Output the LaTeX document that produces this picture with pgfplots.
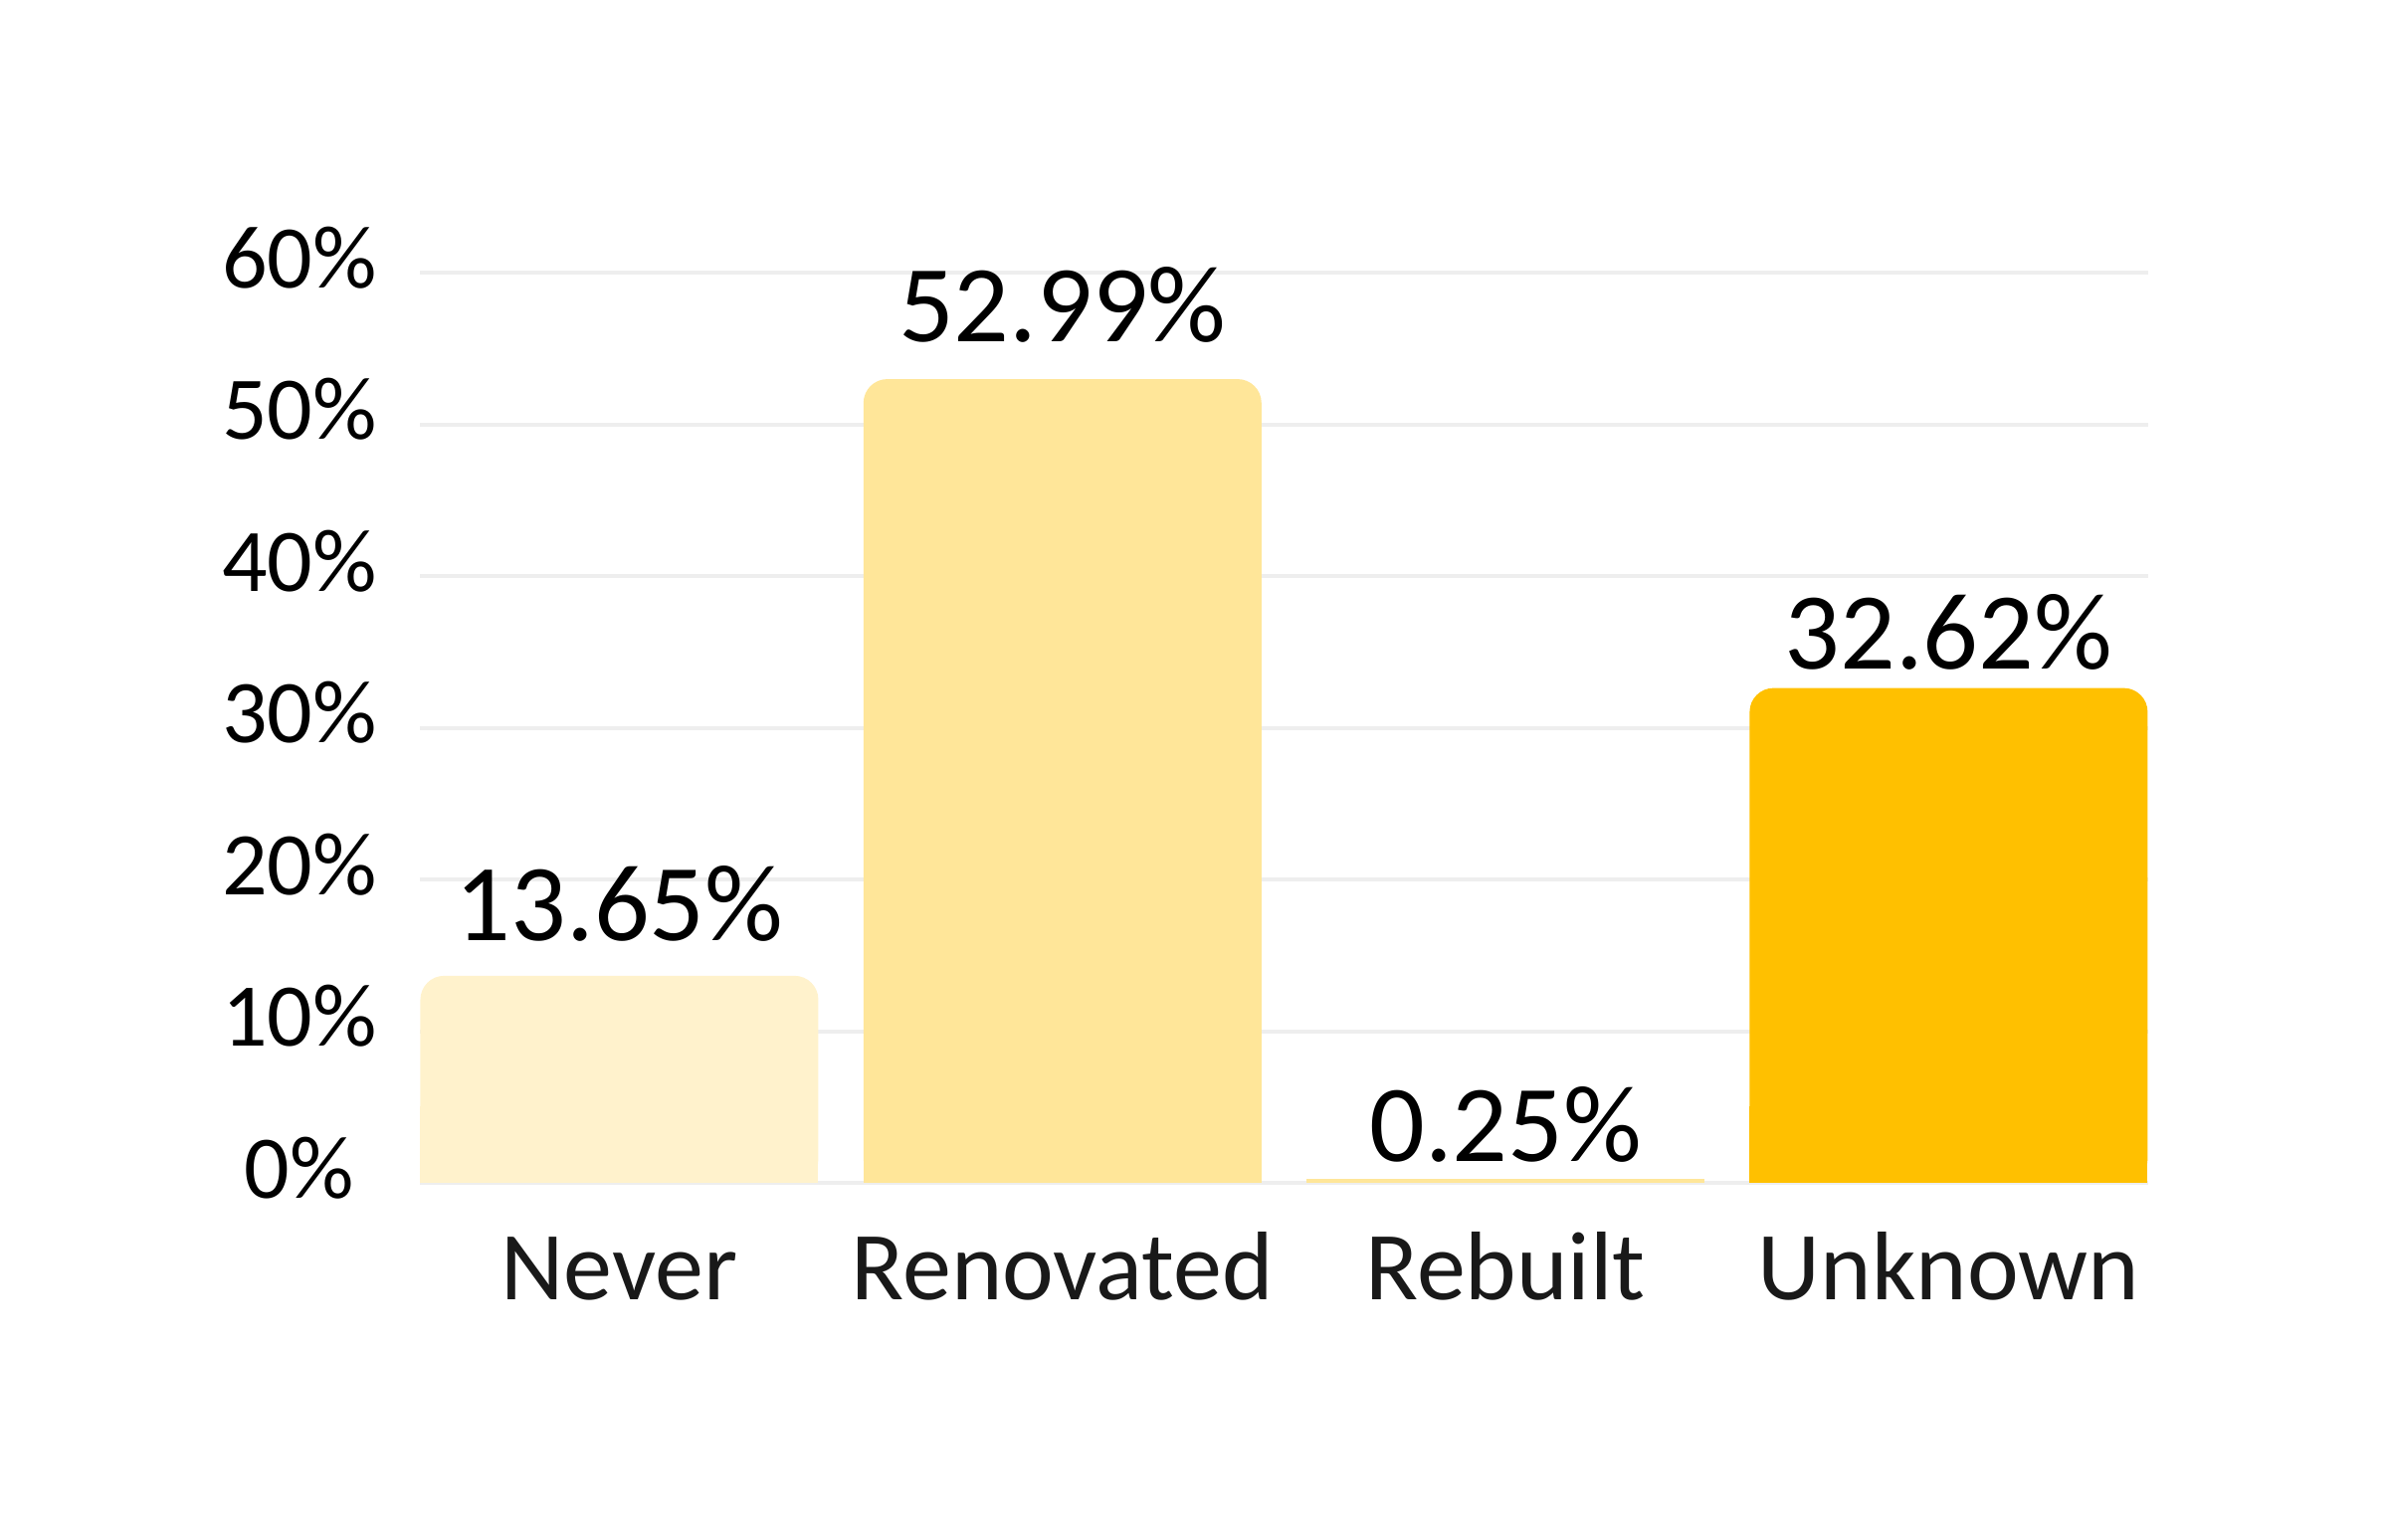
\documentclass[border=0pt]{standalone}
\usepackage{fontspec}
\setmainfont{Carlito}
\usepackage{pgfplots}
\pgfplotsset{compat=1.18}
\definecolor{cNever}{HTML}{FFF2CC}
\definecolor{cRen}{HTML}{FFE699}
\definecolor{cReb}{HTML}{FFE699}
\definecolor{cUnk}{HTML}{FFC000}
\definecolor{gridc}{HTML}{EEEEEE}
\pgfplotsset{
  lbl/.style={
    nodes near coords={\pgfmathprintnumber[fixed,fixed zerofill,precision=2]{\pgfplotspointmeta}\%},
    every node near coord/.append style={anchor=base, yshift=#1, font=\fontsize{27.5}{33}\selectfont, text=black},
  },
}
\begin{document}
\begin{tikzpicture}
\path[use as bounding box] (0,0) rectangle (600.25pt,387pt);
\begin{axis}[
  at={(105.6pt,89.75pt)}, anchor=south west,
  scale only axis, width=434.1pt, height=228.7pt,
  xmin=-0.4493, xmax=3.450, ymin=0, ymax=60,
  ybar, bar width=100pt, bar shift=0pt,
  xtick={0,1,2,3}, xticklabels={Never,Renovated,Rebuilt,Unknown},
  ytick={0,10,...,60}, yticklabel={\pgfmathprintnumber{\tick}\%},
  axis line style={draw=none}, major tick length=0pt,
  ymajorgrids, major grid style={draw=gridc, line width=1pt},
  /pgf/number format/assume math mode=true,
  yticklabel style={anchor=center, xshift=-30.4pt, yshift=3.75pt, font=\fontsize{22.5}{27}\selectfont, text=black},
  xticklabel style={anchor=base, yshift=-29.5pt, font=\fontsize{24.5}{29}\selectfont, text=black!90},
  clip=false,
]
\addplot[fill=cNever, draw=none, rounded corners=6pt, lbl=8.8pt] coordinates {(0,13.65)};
\addplot[fill=cRen, draw=none, rounded corners=6pt, lbl=9.4pt] coordinates {(1,52.99)};
\addplot[fill=cReb, draw=none, lbl=4.5pt] coordinates {(2,0.25)};
\addplot[fill=cUnk, draw=none, rounded corners=6pt, lbl=4.8pt] coordinates {(3,32.62)};
\begin{scope}
\clip (axis cs:-1,0) rectangle (axis cs:4,5);
\addplot[fill=cNever, draw=none] coordinates {(0,13.65)};
\addplot[fill=cRen, draw=none] coordinates {(1,52.99)};
\addplot[fill=cUnk, draw=none] coordinates {(3,32.62)};
\end{scope}
\end{axis}
\end{tikzpicture}
\end{document}
